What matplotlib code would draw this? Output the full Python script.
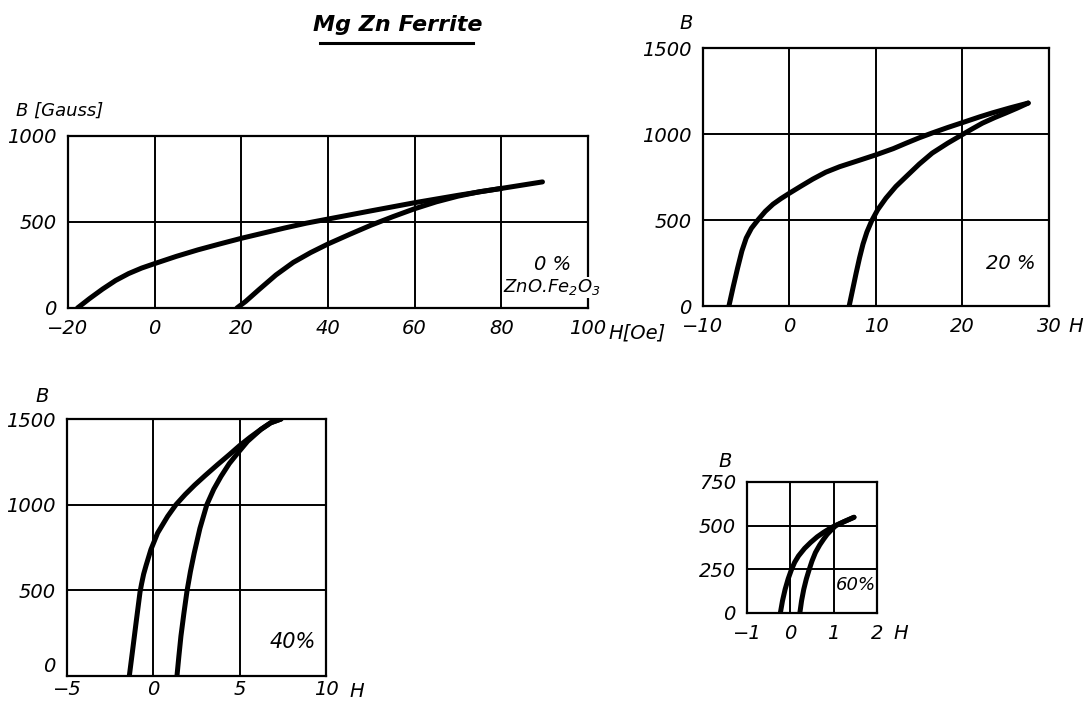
import matplotlib
matplotlib.use("Agg")
import matplotlib.pyplot as plt

plt.rcParams["font.family"] = "DejaVu Sans"
plt.rcParams["font.style"] = "italic"

# 0 % ZnO.Fe2O3  (H in Oe, B in Gauss)
h0_down = [-17.8, -15, -12, -9, -6, -3, 0, 5, 10, 15, 20, 25, 30, 35, 40, 50, 60, 70, 80, 89.5]
b0_down = [0, 55, 110, 160, 200, 232, 258, 300, 338, 372, 405, 435, 465, 493, 517, 565, 612, 655, 695, 733]
h0_up = [19, 21, 24, 28, 32, 36, 40, 45, 50, 55, 60, 65, 70, 75, 80]
b0_up = [0, 38, 105, 192, 265, 322, 372, 428, 482, 531, 577, 617, 650, 676, 695]

# 20 %
h20_down = [-7.0, -6.5, -6.0, -5.5, -5.0, -4.4, -3.65, -2.8, -1.9, -1, 0, 1.3, 2.7, 4.2, 5.8, 8,
            10, 12, 13.5, 15, 16.5, 18.3, 20.1, 22, 23.4, 25.5, 27.6]
b20_down = [0, 113, 220, 320, 395, 452, 500, 550, 592, 624, 656, 696, 738, 778, 810, 846,
            879, 915, 947, 978, 1006, 1038, 1068, 1100, 1122, 1152, 1180]
h20_up = [6.9, 7.3, 7.7, 8.1, 8.5, 8.95, 9.5, 10.2, 11.15, 12.3, 13.5, 15, 16.5, 18.3,
          20.1, 21.2, 22.3, 23.7, 25, 26.3, 27.6]
b20_up = [0, 95, 190, 280, 360, 430, 495, 560, 627, 695, 753, 825, 889, 947,
          1000, 1032, 1063, 1095, 1122, 1150, 1180]

# 40 %
h40_down = [-1.39, -1.2, -1.0, -0.77, -0.68, -0.56, -0.42, -0.14, 0.25, 0.83, 1.31, 1.85, 2.4,
            3.0, 3.7, 4.4, 5.0, 5.6, 6.24, 6.8, 7.4]
b40_down = [0, 150, 310, 490, 538, 595, 645, 738, 835, 932, 1000, 1060, 1115,
            1170, 1232, 1292, 1345, 1393, 1440, 1478, 1500]
h40_up = [1.37, 1.48, 1.6, 1.77, 1.95, 2.15, 2.37, 2.7, 3.1, 3.5, 3.92, 4.4, 4.88, 5.46,
          6.24, 6.8, 7.4]
b40_up = [0, 115, 233, 365, 495, 610, 718, 862, 1000, 1090, 1165, 1240, 1300, 1370,
          1440, 1478, 1500]

# 60 %
h60_down = [-0.23, -0.18, -0.12, -0.05, 0.02, 0.1, 0.19, 0.33, 0.47, 0.62, 0.77, 0.9,
            1.0, 1.24, 1.47]
b60_down = [0, 70, 135, 195, 244, 290, 327, 370, 404, 436, 462, 482, 496, 523, 548]
h60_up = [0.22, 0.26, 0.31, 0.37, 0.43, 0.5, 0.58, 0.68, 0.77, 0.85, 0.93, 1.05, 1.24, 1.47]
b60_up = [0, 70, 135, 195, 244, 297, 346, 390, 423, 450, 471, 500, 523, 548]

FS = 14
CURVE = dict(color="black", lw=3.6, solid_capstyle="round", solid_joinstyle="round", zorder=3)


def setup(ax, xlim, ylim, xticks, yticks, xlabels, xpad=8):
    ax.set_xlim(*xlim)
    ax.set_ylim(*ylim)
    ax.set_xticks(xticks, xlabels)
    ax.set_yticks(yticks, [str(v) for v in yticks])
    ax.grid(True, color="black", lw=1.4)
    ax.set_axisbelow(True)
    for s in ax.spines.values():
        s.set_linewidth(1.6)
    ax.tick_params(length=0, labelsize=FS)
    ax.tick_params(axis="y", pad=8)
    ax.tick_params(axis="x", pad=xpad)


def axis_word(ax, word, dx, dy):
    ax.annotate(word, xy=(1, 0), xycoords="axes fraction", xytext=(dx, dy),
                textcoords="offset points", fontsize=FS, ha="left", va="center")


def b_label(ax, word, dx, dy, fs=FS):
    ax.annotate(word, xy=(0, 1), xycoords="axes fraction", xytext=(dx, dy),
                textcoords="offset points", fontsize=fs, ha="center", va="center")


fig = plt.figure(figsize=(10.84, 7.02), dpi=100)

ax1 = fig.add_axes([0.0627, 0.5613, 0.4797, 0.245])
setup(ax1, (-20, 100), (0, 1000), range(-20, 101, 20), [0, 500, 1000],
      ["\u221220", "0", "20", "40", "60", "80", "100"])
ax1.plot(h0_down, b0_down, **CURVE)
ax1.plot(h0_up, b0_up, **CURVE)
ax1.text(96, 250, "0 %", fontsize=FS, ha="right", va="center")
ax1.text(103, 120, "ZnO.Fe$_2$O$_3$", fontsize=FS - 1, ha="right", va="center",
         bbox=dict(facecolor="white", edgecolor="none", pad=0.5), zorder=4)
axis_word(ax1, "H[Oe]", 15, -18)
b_label(ax1, "B [Gauss]", -6, 18, FS - 1)

ax2 = fig.add_axes([0.6485, 0.5641, 0.3192, 0.3675])
setup(ax2, (-10, 30), (0, 1500), range(-10, 31, 10), [0, 500, 1000, 1500],
      ["\u221210", "0", "10", "20", "30"])
ax2.plot(h20_down, b20_down, **CURVE)
ax2.plot(h20_up, b20_up, **CURVE)
ax2.text(28.4, 250, "20 %", fontsize=FS, ha="right", va="center")
axis_word(ax2, "H", 14, -15)
b_label(ax2, "B", -12, 18)

ax3 = fig.add_axes([0.0618, 0.037, 0.2389, 0.3661])
setup(ax3, (-5, 10), (0, 1500), [-5, 0, 5, 10], [0, 500, 1000, 1500],
      ["\u22125", "0", "5", "10"], xpad=3)
ax3.get_yticklabels()[0].set_va("bottom")
ax3.plot(h40_down, b40_down, **CURVE)
ax3.plot(h40_up, b40_up, **CURVE)
ax3.text(9.45, 200, "40%", fontsize=FS + 1, ha="right", va="center")
axis_word(ax3, "H", 17, -11)
b_label(ax3, "B", -18, 16)

ax4 = fig.add_axes([0.6891, 0.1268, 0.1199, 0.1866])
setup(ax4, (-1, 2), (0, 750), [-1, 0, 1, 2], [0, 250, 500, 750],
      ["\u22121", "0", "1", "2"])
ax4.plot(h60_down, b60_down, **CURVE)
ax4.plot(h60_up, b60_up, **CURVE)
ax4.text(1.97, 160, "60%", fontsize=FS - 1, ha="right", va="center")
axis_word(ax4, "H", 12, -15)
b_label(ax4, "B", -16, 15)

fig.text(398 / 1084, 1 - 25 / 702, "Mg Zn Ferrite", fontsize=16, fontweight="bold",
         ha="center", va="center")
fig.add_artist(plt.Line2D([320 / 1084, 473 / 1084], [1 - 43 / 702, 1 - 43 / 702],
                          color="black", lw=2.2))

fig.savefig("out.png", dpi=100, facecolor="white")
